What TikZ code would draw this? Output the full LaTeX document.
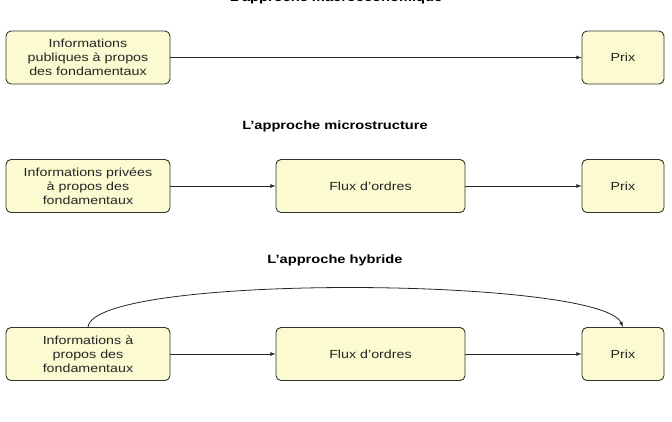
\documentclass[tikz,border=0pt]{standalone}
\usepackage{fontspec}
\setmainfont[FakeStretch=1.22]{Liberation Sans}
\usepackage{xcolor}
\usepackage{tikz}
\usetikzlibrary{positioning}
\definecolor{boxfill}{RGB}{252,250,208}
\definecolor{boxline}{RGB}{50,50,45}

\begin{document}
\begin{tikzpicture}[x=1pt,y=-1pt,>=latex,
    infobox/.style={draw=boxline,line width=0.9pt,fill=boxfill,rounded corners=5pt,
        minimum height=53pt,align=center,text=black!85,
        font=\fontsize{11.7}{13.8}\selectfont},
    heading/.style={anchor=base,font=\fontsize{12}{14}\selectfont\bfseries},
    flow/.style={->,line width=0.8pt,black!85}]

\clip (0,0) rectangle (672,422);

% L'approche macroeconomique
\node[heading] (t1) at (336,2) {L’approche macroéconomique};
\node[infobox,minimum width=164pt] (a1) at (88,57.5) {Informations\\publiques à propos\\des fondamentaux};
\node[infobox,minimum width=82pt] (p1) at (623,57.5) {Prix};
\draw[flow] (a1) -- (p1);

% L'approche microstructure
\node[heading] (t2) at (335,130) {L’approche microstructure};
\node[infobox,minimum width=164pt] (a2) at (88,186) {Informations privées\\à propos des\\fondamentaux};
\node[infobox,minimum width=189pt] (f2) at (370.5,186) {Flux d’ordres};
\node[infobox,minimum width=82pt] (p2) at (623,186) {Prix};
\draw[flow] (a2) -- (f2);
\draw[flow] (f2) -- (p2);

% L'approche hybride
\node[heading] (t3) at (335,263.5) {L’approche hybride};
\node[infobox,minimum width=164pt] (a3) at (88,354) {Informations à\\propos des\\fondamentaux};
\node[infobox,minimum width=189pt] (f3) at (370.5,354) {Flux d’ordres};
\node[infobox,minimum width=82pt] (p3) at (623,354) {Prix};
\draw[flow] (a3) -- (f3);
\draw[flow] (f3) -- (p3);
\draw[flow] (a3.north) .. controls +(6,-54) and +(-22,-50) .. (p3.north);

\end{tikzpicture}
\end{document}
